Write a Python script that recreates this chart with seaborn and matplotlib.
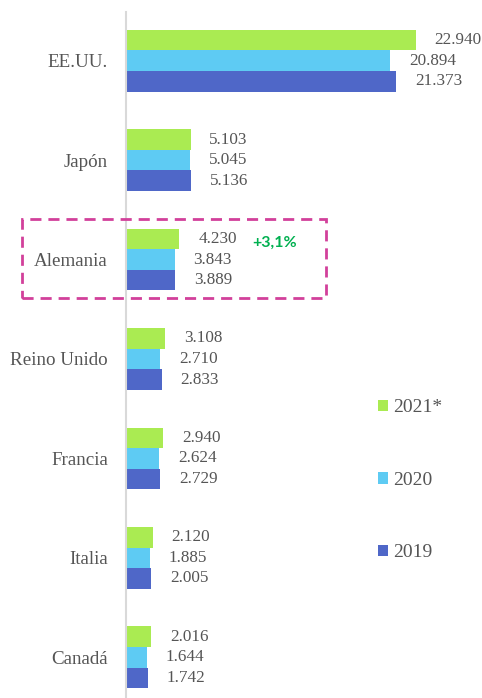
import pandas as pd
import matplotlib.pyplot as plt
import matplotlib.patches as mpatches
import seaborn as sns

# Datos (miles de millones USD)
paises = ["EE.UU.", "Japón", "Alemania", "Reino Unido", "Francia", "Italia", "Canadá"]
anios = ["2021*", "2020", "2019"]
valores_2021 = [22940, 5103, 4230, 3108, 2940, 2120, 2016]
valores_2020 = [20894, 5045, 3843, 2710, 2624, 1885, 1644]
valores_2019 = [21373, 5136, 3889, 2833, 2729, 2005, 1742]
colores = ["#AAEB52", "#5ECBF3", "#4F67C8"]

df = pd.DataFrame({
    "pais": paises * 3,
    "anio": [anios[0]] * 7 + [anios[1]] * 7 + [anios[2]] * 7,
    "valor": valores_2021 + valores_2020 + valores_2019,
})

sns.set_style("white")
plt.rcParams["font.family"] = ["Liberation Serif", "DejaVu Serif"]
gris = "#555555"

fig = plt.figure(figsize=(4.82, 6.98), dpi=100)
ax = fig.add_axes([126 / 482, 0, 1 - 126 / 482, 1 - 12 / 698])

sns.barplot(
    data=df, y="pais", x="valor", hue="anio",
    order=paises, hue_order=anios, palette=colores,
    orient="h", width=0.62, saturation=1, linewidth=0, ax=ax,
)

ax.set_xlim(0, 28165)
ax.set_ylim(6.41, -0.49)

# Etiquetas de valor
for cont in ax.containers:
    etiquetas = [f"{int(b.get_width()):,}".replace(",", ".") for b in cont]
    ax.bar_label(cont, labels=etiquetas, padding=13.5, fontsize=12.3, color=gris)

ax.set_xlabel("")
ax.set_ylabel("")
ax.set_xticks([])
ax.tick_params(axis="y", length=0, pad=13, labelsize=13.7, labelcolor=gris)

for s in ["top", "right", "bottom"]:
    ax.spines[s].set_visible(False)
ax.spines["left"].set_color("#D9D9D9")
ax.spines["left"].set_linewidth(1.5)

# Leyenda
handles, labels = ax.get_legend_handles_labels()
ax.legend(
    handles, labels, frameon=False, loc="upper left",
    bbox_to_anchor=(360 / 482, 1 - 382 / 698), bbox_transform=fig.transFigure,
    fontsize=14, handlelength=0.52, handleheight=0.52, handletextpad=0.3,
    labelspacing=2.85, labelcolor=gris,
)

# Variación Alemania
ax.text(10000, 2 - 0.17, "+3,1%", color="#00B050", fontweight="bold",
        fontsize=11.5, family=["Lato", "DejaVu Sans"], ha="left", va="center")

# Recuadro discontinuo
rect = mpatches.Rectangle(
    (22 / 482, 1 - 298 / 698), (326 - 22) / 482, (298 - 219) / 698,
    transform=fig.transFigure, fill=False, edgecolor="#D2409A",
    linewidth=2, linestyle=(0, (4, 2.5)), clip_on=False,
)
fig.patches.append(rect)

fig.savefig("out.png", dpi=100, facecolor="white")
